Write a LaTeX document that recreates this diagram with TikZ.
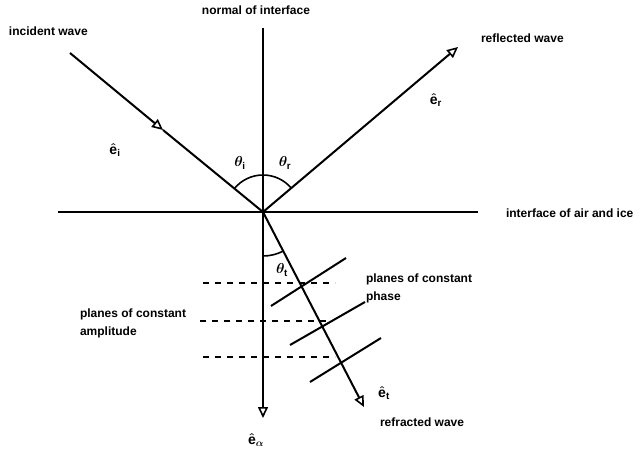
\documentclass[tikz,border=0pt]{standalone}
\usepackage{amsmath}
\usepackage{fontspec}
\setmainfont{Liberation Sans}
\usetikzlibrary{arrows.meta}

\begin{document}
\begin{tikzpicture}[x=1pt, y=1pt, line width=2pt,
    lbl/.style={font=\bfseries\boldmath\fontsize{12}{18}\selectfont, inner sep=0pt, align=left},
    sym/.style={font=\bfseries\boldmath\fontsize{14}{16}\selectfont, inner sep=0pt},
    wave/.style={-{Triangle[open, length=11pt, width=10pt, line width=1.6pt]}},
    plane/.style={dash pattern=on 6pt off 6pt}]
            \useasboundingbox (0,0) rectangle (643,-457);

            \coordinate (o) at (263,-212);
            \coordinate (top) at (263,-28);
            \coordinate (bottom) at (263,-418);
            \coordinate (left) at (58,-212);
            \coordinate (right) at (478,-212);
            \coordinate (inc) at (70,-53);
            \coordinate (incmid) at (163,-130);
            \coordinate (refl) at (458,-47);
            \coordinate (refr) at (364,-407);

            % rays
            \draw (top) -- (o);
            \draw[wave] (o) -- (bottom);
            \draw (left) -- (right);
            \draw[wave] (inc) -- (incmid);
            \draw (incmid) -- (o);
            \draw[wave] (o) -- (refl);
            \draw[wave] (o) -- (refr);

            % angles
            \draw[line width=1.6pt] (o) ++(140.5:37) arc[start angle=140.5, end angle=90, radius=37];
            \draw[line width=1.6pt] (o) ++(90:37) arc[start angle=90, end angle=40.2, radius=37];
            \draw[line width=1.6pt] (o) ++(270:44) arc[start angle=270, end angle=297.5, radius=44];

            % planes of constant amplitude
            \draw[plane] (203,-283) coordinate (a1) -- (335,-283) coordinate (a2);
            \draw[plane] (200,-321) coordinate (b1) -- (332,-321) coordinate (b2);
            \draw[plane] (203,-357) coordinate (c1) -- (335,-357) coordinate (c2);

            % planes of constant phase
            \coordinate (p1a) at (271,-306);
            \coordinate (p1b) at (346,-258);
            \coordinate (p2a) at (290,-345);
            \coordinate (p2b) at (365,-302);
            \coordinate (p3a) at (310,-382);
            \coordinate (p3b) at (381,-338);
            \draw (p1a) -- (p1b);
            \draw (p2a) -- (p2b);
            \draw (p3a) -- (p3b);

            % labels
            \node [lbl] (normal) at (256,-10) {normal of interface};
            \node [lbl, anchor=west] (incident) at (8,-31) {incident wave};
            \node [lbl, anchor=west] (reflected) at (480,-38) {reflected wave};
            \node [lbl, anchor=west] (interface) at (505,-213) {interface of air and ice};
            \node [lbl, anchor=west] (refracted) at (379,-422) {refracted wave};
            \node [lbl, anchor=west] (phase) at (365,-288) {planes of constant\\phase};
            \node [lbl, anchor=west] (amplitude) at (79,-323) {planes of constant\\amplitude};

            \node [sym] (thi) at (240,-163) {$\theta_{\text{i}}$};
            \node [sym] (thr) at (285,-163) {$\theta_{\text{r}}$};
            \node [sym] (tht) at (282,-270) {$\theta_{\text{t}}$};
            \node [sym] (ei) at (115,-150) {$\hat{\text{e}}_{\text{i}}$};
            \node [sym] (er) at (436,-100) {$\hat{\text{e}}_{\text{r}}$};
            \node [sym] (et) at (384,-393) {$\hat{\text{e}}_{\text{t}}$};
            \node [sym] (ea) at (256,-440) {$\hat{\text{e}}_{\alpha}$};
        \end{tikzpicture}
\end{document}
